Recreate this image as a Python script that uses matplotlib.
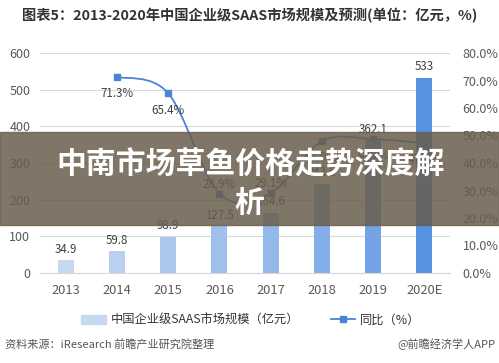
import numpy as np
import matplotlib
matplotlib.use("Agg")
import matplotlib.pyplot as plt
from matplotlib.path import Path
from matplotlib.patches import PathPatch, Rectangle
from matplotlib.lines import Line2D

plt.rcParams['font.family'] = ['Noto Sans CJK SC', 'DejaVu Sans']

# =========================
# DATA
# =========================
years = ["2013", "2014", "2015", "2016", "2017", "2018", "2019", "2020E"]
market_size = [34.9, 59.8, 98.9, 127.5, 164.6, 243.5, 362.1, 533]
growth_years = ["2014", "2015", "2016", "2017", "2018", "2019", "2020E"]
growth_pct = [71.3, 65.4, 28.9, 29.1, 47.9, 48.7, 47.2]

left_ticks = [0, 100, 200, 300, 400, 500, 600]
right_ticks = [0, 10, 20, 30, 40, 50, 60, 70, 80]

title = "图表5：2013-2020年中国企业级SAAS市场规模及预测(单位：亿元，%)"
overlay_title = "中南市场草鱼价格走势深度解析"
source = "资料来源：iResearch 前瞻产业研究院整理"
credit = "@前瞻经济学人APP"

bar_colors = ["#c6d9f1", "#b9d0f0", "#abc7ee", "#a0c0ec", "#93b8ea",
              "#84aee8", "#73a3e6", "#5592e0"]
line_color = "#4a84d6"
text_gray = "#595959"

# =========================
# FIGURE
# =========================
fig = plt.figure(figsize=(4.99, 3.63), dpi=100)
ax = fig.add_axes([40 / 499, 1 - 273 / 363, 410 / 499, 220 / 363])
ax2 = ax.twinx()

x = np.arange(len(years))
ax.bar(x, market_size, width=0.31, color=bar_colors, zorder=2)
for xi, v in zip(x, market_size):
    ax.text(xi, v + 12, f"{v:g}", ha="center", va="bottom", fontsize=8.3,
            color="#404040", zorder=3)

ax.set_xlim(-0.5, len(years) - 0.5)
ax.set_ylim(0, 600)
ax.set_yticks(left_ticks)
ax.set_xticks(x)
ax.set_xticklabels(years)
ax.grid(axis="y", color="#d9d9d9", linewidth=0.8, zorder=0)
ax.tick_params(length=0, labelsize=9, colors=text_gray, pad=7)
ax.tick_params(axis="x", labelsize=9.3, pad=8)
for s in ax.spines.values():
    s.set_visible(False)
ax.spines["bottom"].set_visible(True)
ax.spines["bottom"].set_color("#d9d9d9")

# growth line (smoothed as in the original, Catmull-Rom -> bezier)
gx = np.array([years.index(g) for g in growth_years], dtype=float)
gy = np.array(growth_pct)
pts = np.column_stack([gx, gy])
verts = [pts[0]]
codes = [Path.MOVETO]
for i in range(len(pts) - 1):
    p0 = pts[i - 1] if i > 0 else pts[i]
    p1, p2 = pts[i], pts[i + 1]
    p3 = pts[i + 2] if i + 2 < len(pts) else pts[i + 1]
    verts += [p1 + (p2 - p0) / 6, p2 - (p3 - p1) / 6, p2]
    codes += [Path.CURVE4] * 3
ax2.add_patch(PathPatch(Path(verts, codes), facecolor="none",
                        edgecolor=line_color, linewidth=1.3, zorder=4))
ax2.plot(gx, gy, linestyle="none", marker="s", markersize=5,
         color=line_color, zorder=5)

# label offsets in pixels (10% = 27.5 px)
label_off = [-17, -17, 9, 9, -16, -16, -16]
for xi, v, off in zip(gx, gy, label_off):
    ax2.text(xi, v + off * 10 / 27.5, f"{v:.1f}%", ha="center",
             va="center", fontsize=8.3, color="#404040", zorder=6)

ax2.set_ylim(0, 80)
ax2.set_yticks(right_ticks)
ax2.set_yticklabels([f"{t:.1f}%" for t in right_ticks])
ax2.tick_params(length=0, labelsize=9, colors=text_gray, pad=9)
for s in ax2.spines.values():
    s.set_visible(False)

# title
fig.text(22 / 499, 1 - 16 / 363, title, fontsize=10.3, fontweight="bold",
         color="#333333", va="center", ha="left")

# legend
handles = [Rectangle((0, 0), 1, 1, color=bar_colors[0]),
           Line2D([0], [0], color=line_color, marker="s", markersize=4,
                  linewidth=1.3)]
fig.legend(handles, ["中国企业级SAAS市场规模（亿元）", "同比（%）"],
           loc="center", bbox_to_anchor=(251 / 499, 1 - 320 / 363), ncol=2,
           frameon=False, fontsize=8.8, handlelength=2.0, columnspacing=2.6,
           handletextpad=0.4, labelcolor="#333333")

# source line
fig.text(5 / 499, 1 - 344 / 363, source, fontsize=8, color="#555555",
         va="center", ha="left")
fig.text(495 / 499, 1 - 344 / 363, credit, fontsize=8, color="#555555",
         va="center", ha="right")

# dark overlay band with headline
fig.patches.append(Rectangle((0, 1 - 225 / 363), 1, 93 / 363,
                             transform=fig.transFigure, color="#6a5e4d",
                             alpha=0.85, zorder=10))
fig.text(251 / 499, 1 - 165 / 363, overlay_title[:-1], fontsize=21.5,
         fontweight="bold", color="white", ha="center", va="center",
         zorder=11)
fig.text(249 / 499, 1 - 203 / 363, overlay_title[-1], fontsize=21.5,
         fontweight="bold", color="white", ha="center", va="center",
         zorder=11)

fig.savefig("out.png", dpi=100)
